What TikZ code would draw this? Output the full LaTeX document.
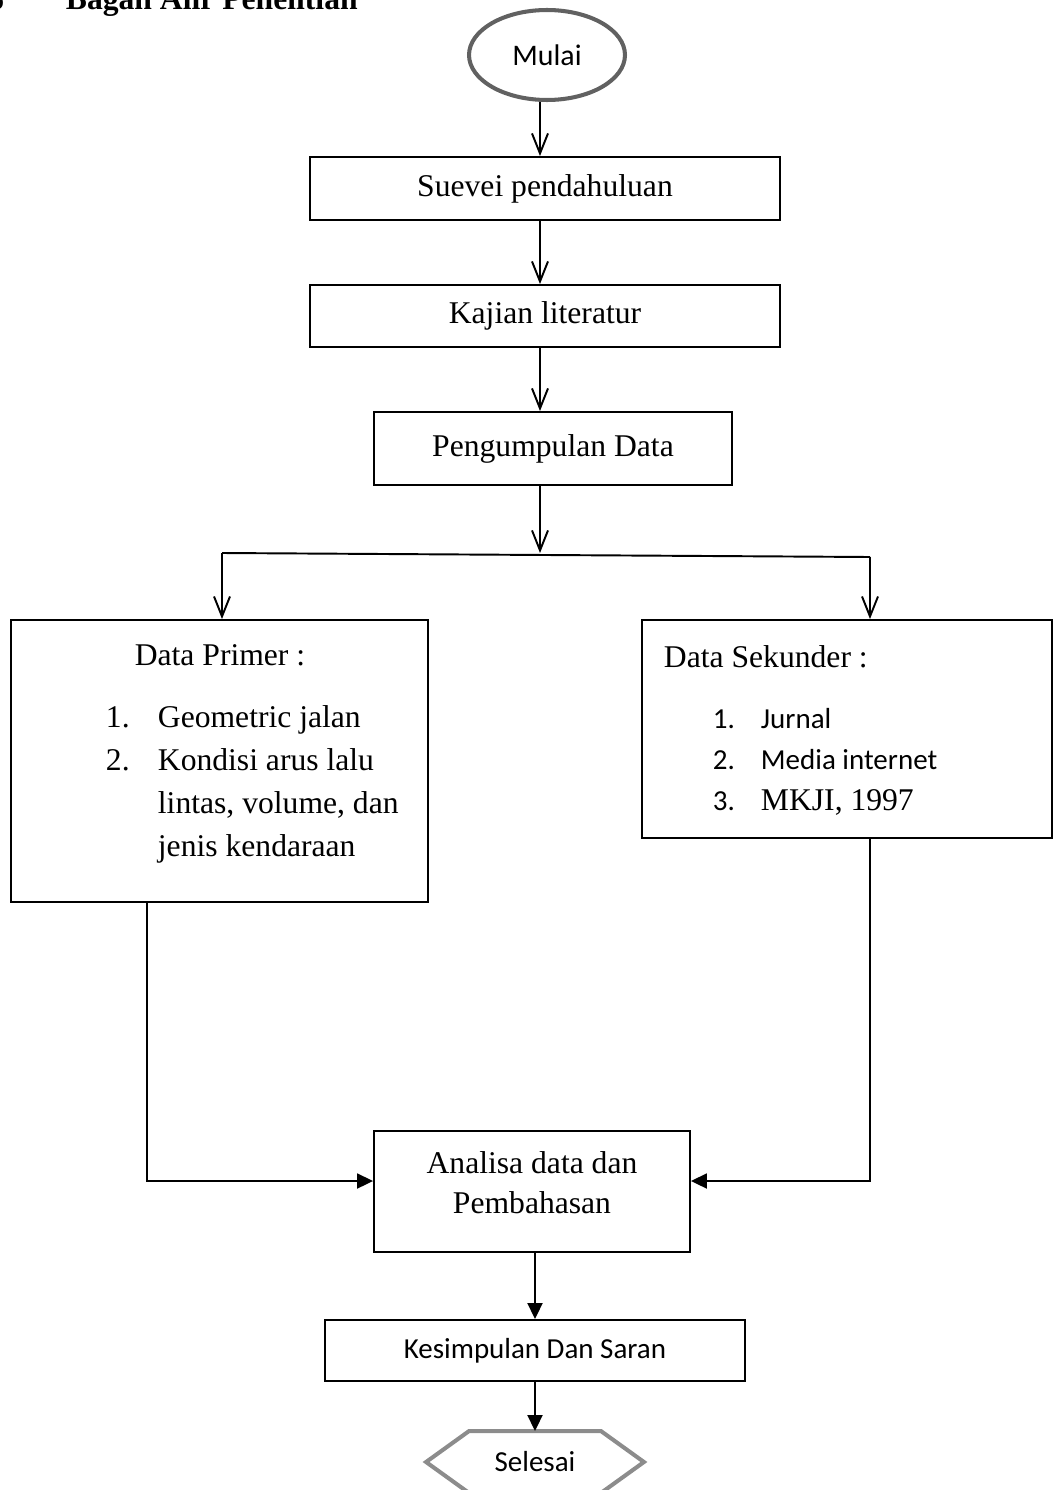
\documentclass[tikz,border=0pt]{standalone}
\usepackage{fontspec}
\setmainfont{Liberation Serif}
\newfontfamily\calibri{Carlito}
\usetikzlibrary{positioning,arrows.meta,shapes.geometric}
\definecolor{startGray}{HTML}{616161}
\definecolor{endGray}{HTML}{8C8C8C}
\newcommand{\kecil}[1]{{\calibri\fontsize{16.5}{20}\selectfont #1}}

\begin{document}
\begin{tikzpicture}[x=0.02cm, y=-0.02cm, line width=1.1pt,
          proses/.style={draw, line width=1.1pt, inner sep=0pt, align=center, font=\fontsize{18}{22.7}\selectfont},
          prosesSans/.style={proses, font=\calibri\fontsize{16.5}{20}\selectfont},
          mulaiShape/.style={draw=startGray, ellipse, line width=2.3pt, inner sep=0pt, minimum width=3.12cm, minimum height=1.8cm, font=\calibri\fontsize{17}{20}\selectfont},
          akhirShape/.style={inner sep=0pt, minimum width=4.32cm, minimum height=1.2cm, font=\calibri\fontsize{16.5}{20}\selectfont},
          akhirLine/.style={draw=endGray, line width=2.3pt, line join=miter},
          teks/.style={inner sep=0pt, font=\fontsize{18}{24.4}\selectfont},
          openarrow/.style={-{Straight Barb[length=0.4cm, width=0.32cm]}},
          fillarrow/.style={-{Triangle[length=0.32cm, width=0.3cm]}}]
        \useasboundingbox (0,0) rectangle (1055,1490);
        \node[teks, font=\bfseries\fontsize{18}{20}\selectfont, anchor=base east] (nomor) at (5,10) {3.6};
        \node[teks, font=\bfseries\fontsize{18}{20}\selectfont, anchor=base west] (judul) at (65,10) {Bagan Alir Penelitian};
        \node[mulaiShape] (mulai) at (547,55) {Mulai};
        \node[proses, minimum width=9.4cm, minimum height=1.26cm] (survei) at (545,188.5) {Suevei pendahuluan};
        \node[proses, minimum width=9.4cm, minimum height=1.24cm] (kajian) at (545,316) {Kajian literatur};
        \node[proses, minimum width=7.16cm, minimum height=1.46cm] (kumpul) at (553,448.5) {Pengumpulan Data};
        \node[proses, minimum width=8.34cm, minimum height=5.64cm] (primer) at (219.5,761) {};
        \node[proses, minimum width=8.2cm, minimum height=4.36cm] (sekunder) at (847,729) {};
        \node[teks, anchor=base] (primerJudul) at (220,665) {Data Primer :};
        \node[teks, anchor=base west] (primerList) at (105,727.5) {\begin{tabular}[t]{@{}p{1.04cm}@{}l@{}}
          1. & Geometric jalan\\ 2. & Kondisi arus lalu\\ & lintas, volume, dan\\ & jenis kendaraan\end{tabular}};
        \node[teks, anchor=base west] (sekunderJudul) at (663,667) {Data Sekunder :};
        \node[teks, font=\fontsize{18}{23.5}\selectfont, anchor=base west] (sekunderList) at (712,728) {\begin{tabular}[t]{@{}p{0.96cm}@{}l@{}}
          \kecil{1.} & \kecil{Jurnal}\\ \kecil{2.} & \kecil{Media internet}\\ \kecil{3.} & MKJI, 1997\end{tabular}};
        \node[proses, minimum width=6.32cm, minimum height=2.42cm] (analisa) at (532,1191.5) {};
        \node[teks, font=\fontsize{18}{22.7}\selectfont, align=center, anchor=base] (analisaTeks) at (532,1213) {Analisa data dan\\ Pembahasan};
        \node[prosesSans, minimum width=8.4cm, minimum height=1.22cm] (kesimpulan) at (535,1350.5) {Kesimpulan Dan Saran};
        \node[akhirShape] (selesai) at (535,1462) {Selesai};
        \draw[akhirLine] ([xshift=0.86cm]selesai.north west) -- ([xshift=-0.86cm]selesai.north east) -- (selesai.east)
          -- ([xshift=-0.86cm]selesai.south east) -- ([xshift=0.86cm]selesai.south west) -- (selesai.west) -- cycle;
        \coordinate (poros) at (540,553);
        \coordinate (cabangKiri) at (222,553);
        \coordinate (cabangKanan) at (870,557);
        \coordinate (gabungKiri) at (147,1181);
        \coordinate (gabungKanan) at (870,1181);
        \foreach \a/\b in {mulai/survei,survei/kajian,kajian/kumpul} { \draw[openarrow] (\a.south -| poros) -- (\b.north -| poros); }
        \draw[openarrow] (kumpul.south -| poros) -- (poros);
        \draw (cabangKiri) -- (cabangKanan);
        \draw[openarrow] (cabangKiri) -- (cabangKiri |- primer.north);
        \draw[openarrow] (cabangKanan) -- (cabangKanan |- sekunder.north);
        \draw[fillarrow] (primer.south -| gabungKiri) -- (gabungKiri) -- (analisa.west |- gabungKiri);
        \draw[fillarrow] (sekunder.south -| gabungKanan) -- (gabungKanan) -- (analisa.east |- gabungKanan);
        \draw[fillarrow] (analisa.south -| kesimpulan) -- (kesimpulan.north);
        \draw[fillarrow] (kesimpulan.south) -- (selesai.north);
      \end{tikzpicture}
\end{document}
